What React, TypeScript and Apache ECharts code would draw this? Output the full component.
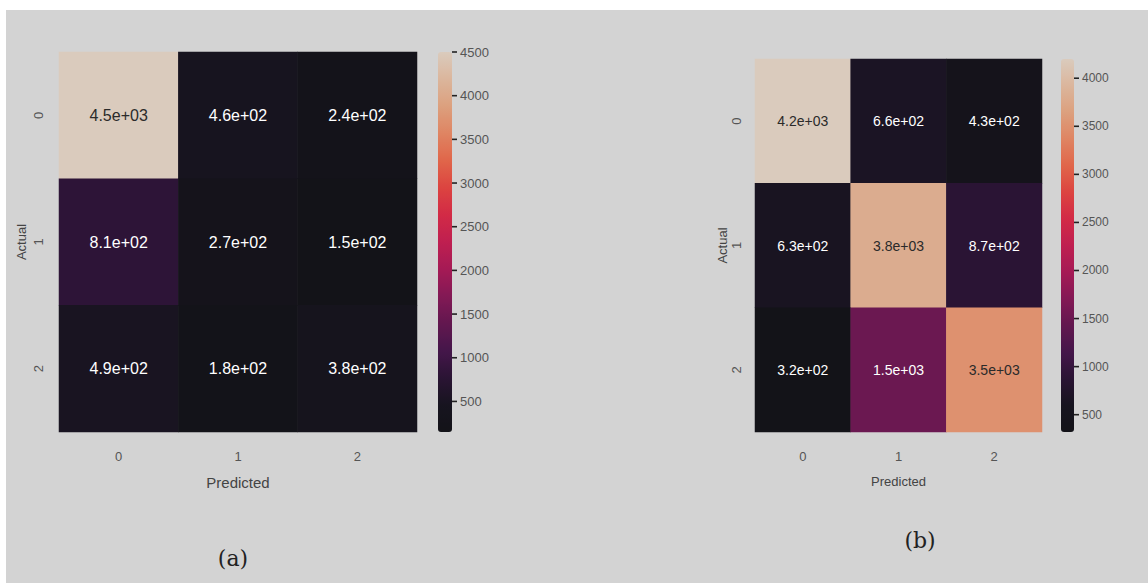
import React, { useEffect, useRef } from "react";
import * as echarts from "echarts";

const categories = ["0", "1", "2"];
// rows = actual, columns = predicted
const matrixA = [
  [4500, 460, 240],
  [810, 270, 150],
  [490, 180, 380],
];
const matrixB = [
  [4200, 660, 430],
  [630, 3800, 870],
  [320, 1500, 3500],
];
const colorbarTicksA = [500, 1000, 1500, 2000, 2500, 3000, 3500, 4000, 4500];
const colorbarTicksB = [500, 1000, 1500, 2000, 2500, 3000, 3500, 4000];
const captions = ["(a)", "(b)"];

const rocket = [
  "#131318",
  "#17141f",
  "#2a1434",
  "#45164a",
  "#62174f",
  "#831955",
  "#a51a55",
  "#bf1f50",
  "#d22a46",
  "#dc4440",
  "#e0664a",
  "#df8462",
  "#dca07e",
  "#dbb69c",
  "#dacbbd",
];

const fmt = (v: number) => {
  const s = v.toExponential(1);
  const [m, e] = s.split("e");
  const sign = e[0];
  const digits = e.slice(1).padStart(2, "0");
  return `${m}e${sign}${digits}`;
};

const flat = (m: number[][]) => m.reduce((a, r) => a.concat(r), [] as number[]);

const buildData = (m: number[][]) => {
  const vals = flat(m);
  const mn = Math.min(...vals);
  const mx = Math.max(...vals);
  const out: any[] = [];
  m.forEach((row, r) =>
    row.forEach((v, c) => {
      const t = (v - mn) / (mx - mn);
      out.push({
        value: [c, r, v],
        label: { color: t > 0.6 ? "#2a2a2a" : "#ffffff" },
      });
    })
  );
  return { out, mn, mx };
};

export default function App() {
  const ref = useRef<HTMLDivElement>(null);
  useEffect(() => {
    if (!ref.current) return;
    const chart = echarts.init(ref.current, undefined, { renderer: "svg" });
    const A = buildData(matrixA);
    const B = buildData(matrixB);
    const sans = "Liberation Sans";
    const tickColor = "#555";
    const catX = (gridIndex: number, fs: number) => ({
      gridIndex,
      type: "category",
      data: categories,
      name: "Predicted",
      nameLocation: "middle",
      nameGap: 43,
      nameTextStyle: { color: "#444", fontSize: fs, fontFamily: sans },
      axisLine: { show: false },
      axisTick: { show: false },
      splitLine: { show: false },
      axisLabel: { margin: 18, color: tickColor, fontSize: 13, fontFamily: sans },
    });
    const catY = (gridIndex: number, margin: number, gap: number) => ({
      gridIndex,
      type: "category",
      data: categories,
      inverse: true,
      name: "Actual",
      nameLocation: "middle",
      nameGap: gap,
      nameRotate: 90,
      nameTextStyle: { color: "#444", fontSize: 13, fontFamily: sans },
      axisLine: { show: false },
      axisTick: { show: false },
      splitLine: { show: false },
      axisLabel: { margin, rotate: 90, color: tickColor, fontSize: 13, fontFamily: sans },
    });
    const barX = (gridIndex: number) => ({ gridIndex, type: "value", show: false, min: 0, max: 1 });
    const barY = (gridIndex: number, mn: number, mx: number, ticks: number[], fs: number) => ({
      gridIndex,
      type: "value",
      position: "right",
      min: mn,
      max: mx,
      axisLine: { show: false },
      splitLine: { show: false },
      axisTick: { show: false },
      axisLabel: {
        customValues: ticks,
        margin: 0,
        color: tickColor,
        fontSize: fs,
        fontFamily: sans,
        formatter: (v: number) => `{t|}{n|${v}}`,
        rich: {
          t: { width: 5, height: 1.6, backgroundColor: "#222", verticalAlign: "middle" },
          n: { color: tickColor, fontSize: fs, fontFamily: sans, padding: [0, 0, 0, 3], verticalAlign: "middle" },
        },
      },
    });
    chart.setOption({
      animation: false,
      backgroundColor: "transparent",
      grid: [
        { left: 59, top: 52, width: 358, height: 380 },
        { left: 438, top: 52, width: 14, height: 380 },
        { left: 755, top: 59, width: 287, height: 373 },
        { left: 1061, top: 59, width: 13, height: 373 },
      ],
      xAxis: [catX(0, 15), barX(1), catX(2, 13), barX(3)],
      yAxis: [
        catY(0, 14, 31),
        barY(1, A.mn, A.mx, colorbarTicksA, 13),
        catY(2, 12, 25),
        barY(3, B.mn, B.mx, colorbarTicksB, 12),
      ],
      visualMap: [
        {
          type: "continuous",
          seriesIndex: 0,
          min: A.mn,
          max: A.mx,
          inRange: { color: rocket },
          calculable: false,
          orient: "vertical",
          itemWidth: 14,
          itemHeight: 380,
          left: 438,
          top: 52,
          padding: 0,
        },
        {
          type: "continuous",
          seriesIndex: 1,
          min: B.mn,
          max: B.mx,
          inRange: { color: rocket },
          calculable: false,
          orient: "vertical",
          itemWidth: 13,
          itemHeight: 373,
          left: 1061,
          top: 59,
          padding: 0,
        },
      ],
      series: [
        {
          type: "heatmap",
          xAxisIndex: 0,
          yAxisIndex: 0,
          data: A.out,
          label: { show: true, formatter: (p: any) => fmt(p.value[2]), fontSize: 16, fontFamily: sans },
          emphasis: { disabled: true },
        },
        {
          type: "heatmap",
          xAxisIndex: 2,
          yAxisIndex: 2,
          data: B.out,
          label: { show: true, formatter: (p: any) => fmt(p.value[2]), fontSize: 14, fontFamily: sans },
          emphasis: { disabled: true },
        },
      ],
      graphic: [
        {
          type: "text",
          x: 233,
          y: 558,
          style: {
            text: captions[0],
            font: "22px 'DejaVu Serif', serif",
            fill: "#222",
            textAlign: "center",
            textVerticalAlign: "middle",
          },
        },
        {
          type: "text",
          x: 920,
          y: 540,
          style: {
            text: captions[1],
            font: "22px 'DejaVu Serif', serif",
            fill: "#222",
            textAlign: "center",
            textVerticalAlign: "middle",
          },
        },
      ],
    });
    return () => chart.dispose();
  }, []);
  return (
    <div
      ref={ref}
      style={{
        position: "absolute",
        left: 0,
        top: 0,
        width: 1148,
        height: 583,
        background: "linear-gradient(#d3d3d3,#d3d3d3) 6px 10px / 1142px 573px no-repeat, #ffffff",
      }}
    />
  );
}
